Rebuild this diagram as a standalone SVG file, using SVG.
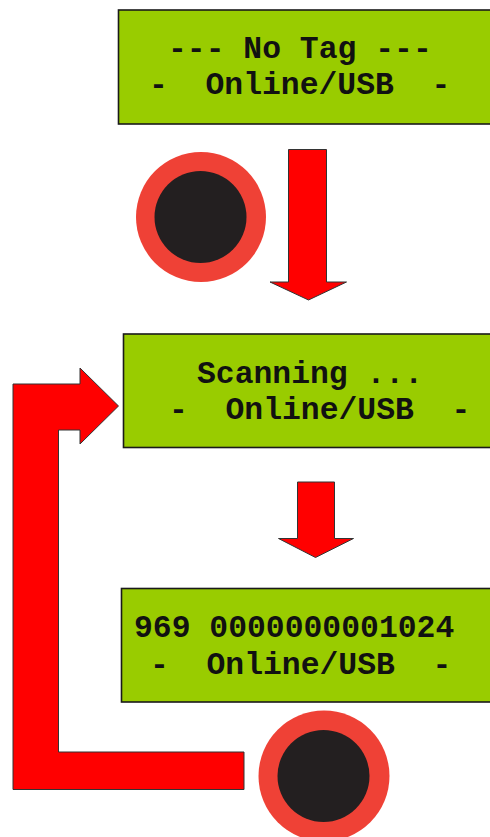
<svg xmlns="http://www.w3.org/2000/svg" width="490" height="837" viewBox="0 0 490 837">
<style>
.lcd{fill:#99CC00;stroke:#1a1a1a;stroke-width:1.6}
.t{font-family:"Liberation Mono","Courier New",monospace;font-weight:bold;font-size:31.4px;fill:#111;white-space:pre}
.arr{fill:#FF0000;stroke:#333;stroke-width:1}
.ring{fill:#EF4136}
.dot{fill:#231F20}
</style>
<rect width="490" height="837" fill="#fff"/>
<g id="node-notag">
<rect class="lcd" x="118.5" y="10" width="400" height="114"/>
<text class="t" x="168" y="58" xml:space="preserve">--- No Tag ---</text>
<text class="t" x="149" y="94" xml:space="preserve">-  Online/USB  -</text>
</g>
<g id="node-button1">
<circle class="ring" cx="201" cy="217" r="65"/>
<circle class="dot" cx="200.5" cy="217" r="46"/>
</g>
<g id="node-scanning">
<rect class="lcd" x="123.5" y="334" width="400" height="113.5"/>
<text class="t" x="197" y="383" xml:space="preserve">Scanning ...</text>
<text class="t" x="169" y="419" xml:space="preserve">-  Online/USB  -</text>
</g>
<g id="node-tag">
<rect class="lcd" x="121.5" y="588.5" width="400" height="113.5"/>
<text class="t" x="134" y="637" xml:space="preserve">969 0000000001024</text>
<text class="t" x="150" y="674" xml:space="preserve">-  Online/USB  -</text>
</g>
<g id="node-button2">
<circle class="ring" cx="324" cy="776" r="65.5"/>
<circle class="dot" cx="323.5" cy="776" r="46"/>
</g>
<g id="connectors">
<polygon class="arr" points="288.5,149.5 326.5,149.5 326.5,282 346.5,282 308.5,300 270,282 288.5,282"/>
<polygon class="arr" points="297.5,482 334.5,482 334.5,538.5 353.5,538.5 315.5,557.5 278.5,538.5 297.5,538.5"/>
<polygon class="arr" points="13,384 80,384 80,368 118.5,406 80,444 80,430 58.5,430 58.5,752 244,752 244,789.5 13,789.5"/>
</g>
</svg>
